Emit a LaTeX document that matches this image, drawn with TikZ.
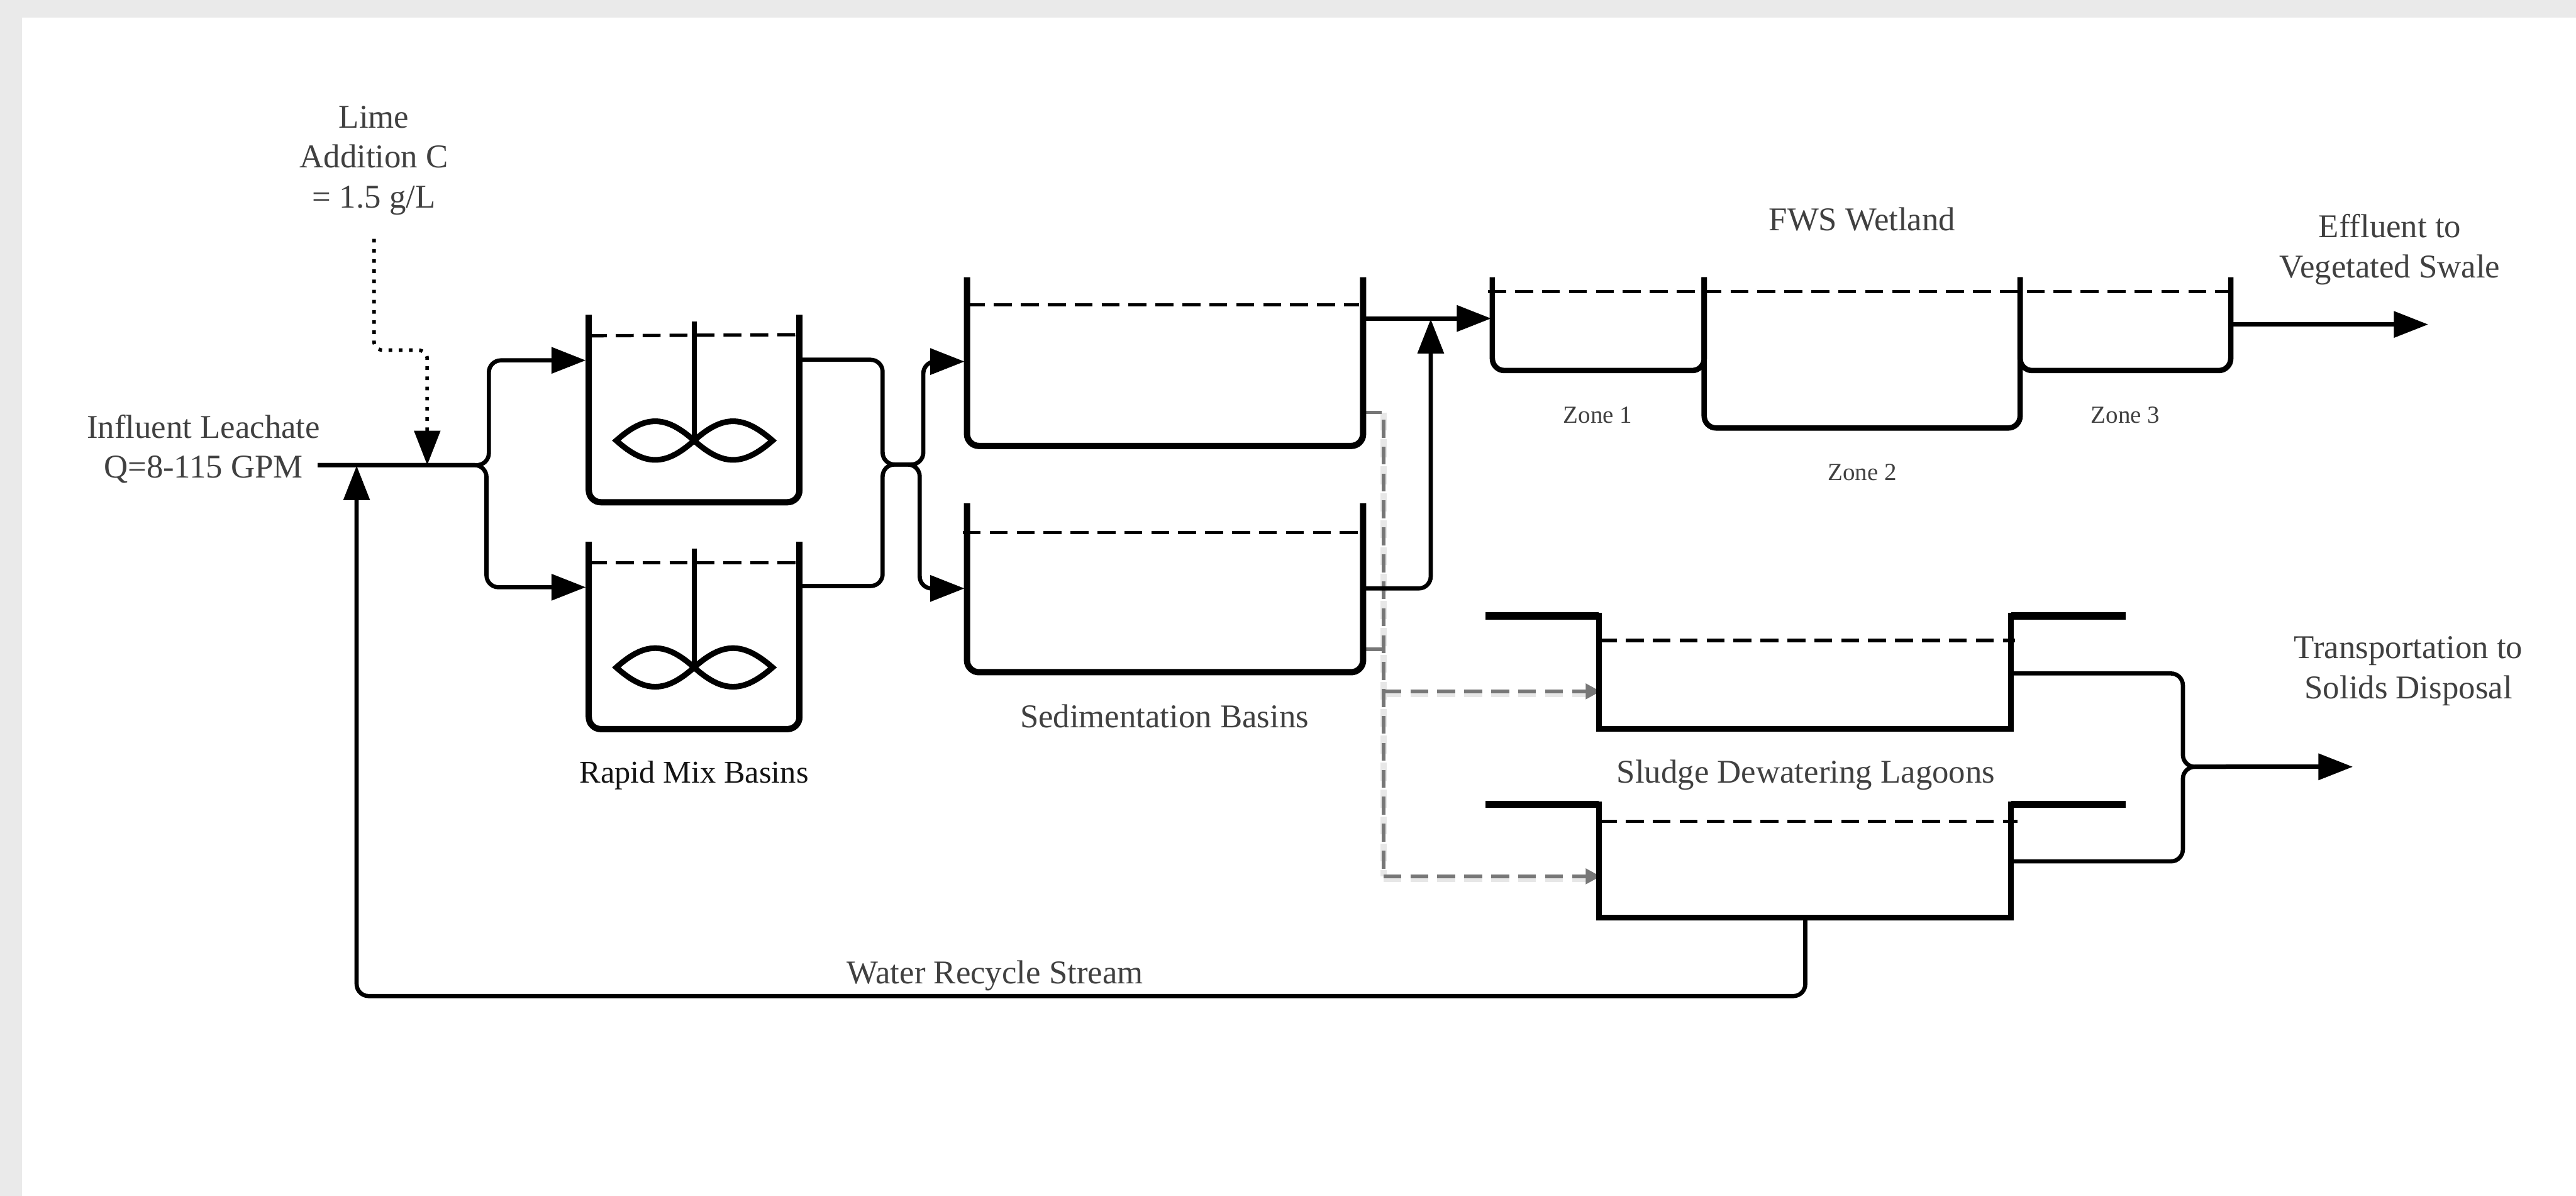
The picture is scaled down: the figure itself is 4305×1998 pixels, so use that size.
\documentclass[tikz,border=0pt]{standalone}
\usepackage{fontspec}
\setmainfont{Liberation Serif}
\usetikzlibrary{arrows.meta}
\definecolor{inkgrey}{HTML}{404040}
\definecolor{sludge}{HTML}{777777}
\definecolor{frame}{HTML}{EAEAEA}
\tikzset{
  wall/.style={line width=2.1pt,black,rounded corners=4pt,line cap=butt},
  thinwall/.style={line width=1.8pt,black,rounded corners=4pt},
  lagoon/.style={line width=1.9pt,black,line join=miter},
  lip/.style={line width=2.4pt,black},
  level/.style={line width=1.1pt,black,dash pattern=on 6pt off 3pt},
  flow/.style={line width=1.4pt,black,rounded corners=4pt},
  feed/.style={flow,-{Triangle[length=11.5pt,width=8.6pt]}},
  dots/.style={line width=1.2pt,black,rounded corners=3pt,dash pattern=on 1.2pt off 2.2pt,-{Triangle[length=11.5pt,width=8.6pt]}},
  sludgeline/.style={line width=1.2pt,sludge,dash pattern=on 6pt off 3pt},
  sludgeglow/.style={line width=2pt,sludge!18,dash pattern=on 6pt off 3pt},
  sludgefeed/.style={sludgeline,-{Triangle[length=5pt,width=5pt]}},
  blade/.style={line width=1.9pt,black},
  label/.style={inner sep=0pt,align=center,text=inkgrey,font=\fontsize{11.1}{13.4}\selectfont},
  darklabel/.style={label,text=black!92,font=\fontsize{10.6}{13}\selectfont},
  smalllabel/.style={label,font=\fontsize{8.2}{10}\selectfont},
  rapidbasin/.pic={
    \draw[wall] (-176,-8) -- (-176,305) -- (176,305) -- (176,-8);
    \draw[line width=1.6pt] (0,3) -- (0,202);
    \draw[blade] (-130,202) .. controls (-82,159) and (-48,159) .. (0,202) .. controls (48,159) and (82,159) .. (131,202)
       .. controls (82,245) and (48,245) .. (0,202) .. controls (-48,245) and (-82,245) .. (-130,202) -- cycle;
  },
  sedbasin/.pic={
    \draw[wall] (0,0) -- (0,282) -- (662,282) -- (662,0);
  },
  lagoonbasin/.pic={
    \draw[lip] (0,0) -- (189,0);
    \draw[lip] (878,0) -- (1069,0);
    \draw[lagoon] (189,-5) -- (189,189) -- (878,189) -- (878,-5);
  },
}
\begin{document}
\begin{tikzpicture}[x=0.2pt,y=-0.2pt]
\useasboundingbox (0,0) rectangle (4305,1998);
\fill[frame] (0,0) rectangle (4305,1998);
\fill[white] (37,29) rectangle (4305,1998);

% anchors
\coordinate (limeStart) at (625,399);
\coordinate (limeA) at (625,585);
\coordinate (limeB) at (714,585);
\coordinate (limeTip) at (714,777);
\coordinate (influent) at (531,777);
\coordinate (upJ) at (817,777);
\coordinate (upK) at (817,602);
\coordinate (rmOneIn) at (979,602);
\coordinate (dnJ) at (813,777);
\coordinate (dnK) at (813,981);
\coordinate (rmTwoIn) at (979,981);
\coordinate (rmOneOut) at (1337,601);
\coordinate (rmTwoOut) at (1337,979);
\coordinate (mA) at (1475,601);
\coordinate (mB) at (1475,776);
\coordinate (mC) at (1475,979);
\coordinate (mM) at (1506,776);
\coordinate (mD) at (1543,776);
\coordinate (mE) at (1543,604);
\coordinate (sedOneIn) at (1612,604);
\coordinate (mF) at (1537,776);
\coordinate (mG) at (1537,983);
\coordinate (sedTwoIn) at (1612,983);
\coordinate (sedOneOut) at (2279,532);
\coordinate (wetIn) at (2492,532);
\coordinate (sedTwoOut) at (2279,983);
\coordinate (riseA) at (2391,983);
\coordinate (riseTip) at (2391,533);
\coordinate (wetOut) at (3728,542);
\coordinate (effluent) at (4058,542);
\coordinate (lagOneOut) at (3362,1125);
\coordinate (lagTwoOut) at (3362,1439);
\coordinate (oA) at (3648,1125);
\coordinate (oB) at (3648,1439);
\coordinate (oJ) at (3648,1281);
\coordinate (oM) at (3720,1281);
\coordinate (disposal) at (3932,1281);
\coordinate (recA) at (3017,1533);
\coordinate (recB) at (3017,1664);
\coordinate (recC) at (596,1664);
\coordinate (recTip) at (596,778);
\coordinate (gStubA) at (2279,689);
\coordinate (gTop) at (2312,689);
\coordinate (gStubB) at (2279,1085);
\coordinate (gStubBJ) at (2312,1085);
\coordinate (gMid) at (2312,1155);
\coordinate (gBot) at (2312,1464);
\coordinate (lagOneIn) at (2675,1155);
\coordinate (lagTwoIn) at (2675,1464);

% sludge lines (below the walls)
\draw[sludgeglow] (gTop) -- (gBot);
\draw[sludgeglow] ([yshift=-1pt]gMid) -- ([yshift=-1pt]lagOneIn);
\draw[sludgeglow] ([yshift=-1pt]gBot) -- ([yshift=-1pt]lagTwoIn);
\draw[sludgeline] (gStubA) -- (gTop) -- (gBot);
\draw[sludgeline] (gStubB) -- (gStubBJ);
\draw[sludgefeed] (gMid) -- (lagOneIn);
\draw[sludgefeed] (gBot) -- (lagTwoIn);

% rapid mix basins
\pic at (1160,534) {rapidbasin};
\pic at (1160,913) {rapidbasin};
\draw[level] (984,561) -- (1336,559);
\draw[level] (984,940) -- (1336,940);

% sedimentation basins
\pic at (1616,463) {sedbasin};
\pic at (1616,841) {sedbasin};
\draw[level] (1616,509) -- (2271,509);
\draw[level] (1609,890) -- (2271,890);

% wetland
\draw[thinwall] (2494,463) -- (2494,619) -- (2848,619) -- (2848,463);
\draw[thinwall] (2848,463) -- (2848,715) -- (3376,715) -- (3376,463);
\draw[thinwall] (3376,463) -- (3376,619) -- (3728,619) -- (3728,463);
\draw[level] (2487,487) -- (3728,487);

% lagoons
\pic at (2483,1029) {lagoonbasin};
\pic at (2483,1344) {lagoonbasin};
\draw[level] (2672,1070) -- (3367,1070);
\draw[level] (2672,1372) -- (3372,1372);

% connectors
\draw[dots] (limeStart) -- (limeA) -- (limeB) -- (limeTip);
\draw[feed] (influent) -- (upJ) -- (upK) -- (rmOneIn);
\draw[feed] (influent) -- (dnJ) -- (dnK) -- (rmTwoIn);
\draw[flow] (rmOneOut) -- (mA) -- (mB) -- (mM);
\draw[flow] (rmTwoOut) -- (mC) -- (mB) -- (mM);
\draw[feed] (mM) -- (mD) -- (mE) -- (sedOneIn);
\draw[feed] (mM) -- (mF) -- (mG) -- (sedTwoIn);
\draw[feed] (sedOneOut) -- (wetIn);
\draw[feed] (sedTwoOut) -- (riseA) -- (riseTip);
\draw[feed] (wetOut) -- (effluent);
\draw[flow] (lagOneOut) -- (oA) -- (oJ) -- (oM);
\draw[flow] (lagTwoOut) -- (oB) -- (oJ) -- (oM);
\draw[feed] (oM) -- (disposal);
\draw[feed] (recA) -- (recB) -- (recC) -- (recTip);

% labels
\node[label] (lime) at (625,268) {Lime\\Addition C\\= 1.5 g/L};
\node[label] (inf) at (340,750) {Influent Leachate\\Q=8-115 GPM};
\node[darklabel] (rapid) at (1160,1295) {Rapid Mix Basins};
\node[label] (sed) at (1946,1196) {Sedimentation Basins};
\node[label] (fws) at (3112,366) {FWS Wetland};
\node[label] (eff) at (3994,417) {Effluent to\\Vegetated Swale};
\node[smalllabel] (zoneA) at (2670,693) {Zone 1};
\node[smalllabel] (zoneB) at (3112,789) {Zone 2};
\node[smalllabel] (zoneC) at (3552,693) {Zone 3};
\node[label] (trans) at (4025,1121) {Transportation to\\Solids Disposal};
\node[label] (sludge) at (3018,1295) {Sludge Dewatering Lagoons};
\node[label] (recycle) at (1663,1630) {Water Recycle Stream};
\end{tikzpicture}
\end{document}
